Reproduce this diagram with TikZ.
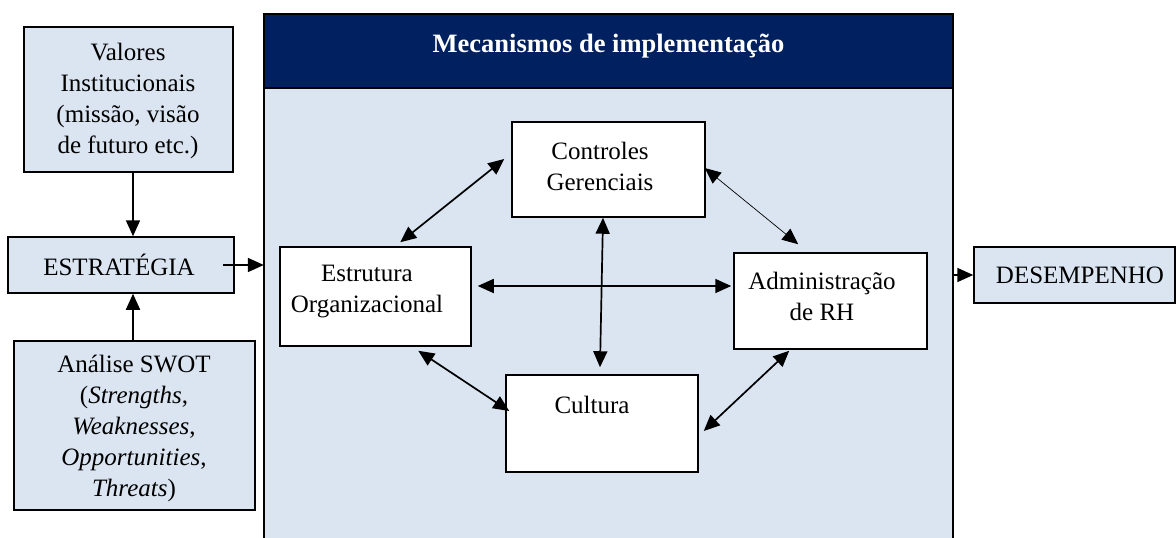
\documentclass[tikz,border=0pt]{standalone}
\usepackage{fontspec}
\setmainfont{Liberation Serif}
\usetikzlibrary{arrows.meta}
\definecolor{lightblue}{HTML}{DBE5F1}
\definecolor{navyhead}{HTML}{002060}
\begin{document}
\begin{tikzpicture}[x=1pt,y=-1pt,
  box/.style={draw=black, line width=1.5pt, rectangle, inner sep=0pt},
  bluebox/.style={box, fill=lightblue},
  whitebox/.style={box, fill=white},
  txt/.style={align=center, font=\fontsize{25}{31}\selectfont, inner sep=0pt},
  arr/.style={line width=1.7pt, -{Triangle[length=16pt,width=14pt]}},
  darr/.style={line width=1.7pt, {Triangle[length=16pt,width=14pt]}-{Triangle[length=16pt,width=14pt]}},
  thindarr/.style={line width=0.7pt, {Triangle[length=16pt,width=14pt]}-{Triangle[length=16pt,width=14pt]}},
]
\useasboundingbox (0,0) rectangle (1176,538);

% main container
\node[fill=lightblue, draw=none, inner sep=0pt, minimum width=689pt, minimum height=534pt] (main) at (608.5,281) {};
\draw[line width=1.5pt] (main.south west) -- (main.north west) -- (main.north east) -- (main.south east);
\node[box, fill=navyhead, minimum width=689pt, minimum height=74pt] (head) at (608.5,51) {};
\node[txt, text=white, font=\fontsize{26.5}{31}\selectfont\bfseries] (title) at (608.5,46) {Mecanismos de implementação};

% left column
\node[bluebox, minimum width=209pt, minimum height=145pt] (val) at (128.5,99.5) {};
\node[txt] (valt) at (128,101) {Valores\\Institucionais \\ (missão, visão\\de futuro etc.)};
\node[bluebox, minimum width=226pt, minimum height=56pt] (estr) at (121,265) {};
\node[txt] (estrt) at (119,265) {ESTRATÉGIA};
\node[bluebox, minimum width=241pt, minimum height=169pt] (swot) at (134.5,425.5) {};
\node[txt] (swott) at (134,428) {Análise SWOT\\(\textit{Strengths},\\\textit{Weaknesses},\\\textit{Opportunities},\\\textit{Threats})};

% right
\node[bluebox, minimum width=201pt, minimum height=56pt] (des) at (1074.5,275) {};
\node[txt] (dest) at (1080,275) {DESEMPENHO};

% inner boxes
\node[whitebox, minimum width=193pt, minimum height=95pt] (ctrl) at (608.5,169.5) {};
\node[txt] (ctrlt) at (600,166) {Controles\\Gerenciais};
\node[whitebox, minimum width=191pt, minimum height=99pt] (estru) at (375.5,296.5) {};
\node[txt] (estrut) at (367,292) {Estrutura\\Organizacional};
\node[whitebox, minimum width=193pt, minimum height=96pt] (adm) at (830.5,301) {};
\node[txt] (admt) at (822,296) {Administração\\de RH};
\node[whitebox, minimum width=192pt, minimum height=97pt] (cult) at (602,423.5) {};
\node[txt] (cultt) at (592,405) {Cultura};

% outer arrows
\draw[arr] ([xshift=4.5pt]val.south) -- ([xshift=12pt]estr.north);
\draw[arr] ([xshift=-1.5pt]swot.north) -- ([xshift=12pt]estr.south);
\draw[arr] ([xshift=-12pt]estr.east) -- (main.west |- estr.east);
\draw[arr] (main.east |- des.west) -- (des.west);

% inner arrows
\draw[darr] ([xshift=121pt,yshift=4pt]estru.north west) -- ([xshift=-7pt,yshift=10.5pt]ctrl.west);
\draw[thindarr] ([xshift=-1pt,yshift=1.5pt]ctrl.east) -- ([xshift=65pt,yshift=8pt]adm.north west);
\draw[darr] ([xshift=-5.5pt]ctrl.south) -- ([xshift=-2pt,yshift=7pt]cult.north);
\draw[darr] ([xshift=6pt,yshift=10.5pt]estru.east) -- ([xshift=-2pt,yshift=15pt]adm.west);
\draw[darr] ([xshift=139pt,yshift=-4pt]estru.south west) -- ([xshift=4pt,yshift=12.5pt]cult.west);
\draw[darr] ([xshift=56pt,yshift=-1pt]adm.south west) -- ([xshift=5pt,yshift=-7.5pt]cult.east);
\end{tikzpicture}
\end{document}
